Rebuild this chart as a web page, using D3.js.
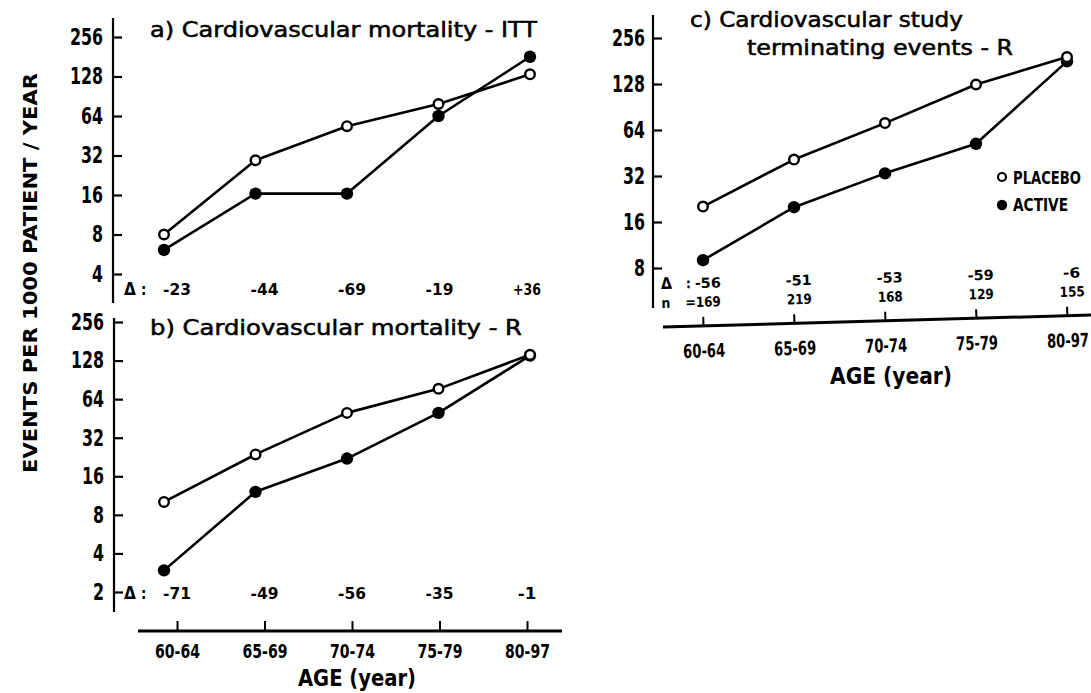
<!DOCTYPE html>
<html>
<head>
<meta charset="utf-8">
<script src="https://cdn.jsdelivr.net/npm/d3@7"></script>
<style>
  html, body { margin: 0; padding: 0; background: #fff; }
  svg { display: block; }
</style>
</head>
<body>
<svg id="chart" width="1091" height="693"></svg>
<script>
// Age groups shared by all three panels
const ageGroups = ["60-64", "65-69", "70-74", "75-79", "80-97"];

// a) Cardiovascular mortality - ITT (events per 1000 patient-years)
const ittPlacebo = [8, 29.4, 53.5, 79, 133];
const ittActive = [6.1, 16.4, 16.4, 64, 181];
const ittDelta = ["-23", "-44", "-69", "-19", "+36"];

// b) Cardiovascular mortality - R
const rPlacebo = [10.1, 23.7, 50, 77, 142];
const rActive = [2.95, 12.1, 22, 50, 140];
const rDelta = ["-71", "-49", "-56", "-35", "-1"];

// c) Cardiovascular study terminating events - R
const termPlacebo = [20.2, 41, 71, 127, 192];
const termActive = [9, 20, 33.3, 52, 180];
const termDelta = ["-56", "-51", "-53", "-59", "-6"];
const termN = ["169", "219", "168", "129", "155"];

// Log-2 tick values on each y axis
const ticksA = [4, 8, 16, 32, 64, 128, 256];
const ticksB = [2, 4, 8, 16, 32, 64, 128, 256];
const ticksC = [8, 16, 32, 64, 128, 256];

const FONT = "'DejaVu Sans Condensed', 'DejaVu Sans', sans-serif";
const svg = d3.select("#chart");
svg.append("rect").attr("width", 1091).attr("height", 693).attr("fill", "#fff");

// x scales: marks for panels a/b, shared x axis for a/b, panel c
const xAB = d3.scalePoint().domain(ageGroups).range([164, 530]);
const xAxisAB = d3.scalePoint().domain(ageGroups).range([177, 527]);
const xC = d3.scalePoint().domain(ageGroups).range([703, 1067]);

const yA = d3.scaleLog().base(2).domain([4, 256]).range([274, 37]);
const yB = d3.scaleLog().base(2).domain([2, 256]).range([592, 322]);
const yC = d3.scaleLog().base(2).domain([8, 256]).range([268, 38]);

function yAxis(scale, ticks, x, top, bottom, pad) {
  const g = svg.append("g").attr("transform", `translate(${x},0)`);
  g.call(d3.axisLeft(scale).tickValues(ticks).tickFormat(d3.format("d"))
      .tickSizeInner(-9).tickSizeOuter(0).tickPadding(pad));
  g.select(".domain").remove();
  g.selectAll(".tick line").attr("stroke", "#000").attr("stroke-width", 2.2);
  g.selectAll(".tick text")
    .attr("font-family", FONT).attr("font-weight", "bold")
    .attr("font-size", 23).attr("fill", "#000")
    .attr("textLength", d => String(d).length * 11)
    .attr("lengthAdjust", "spacingAndGlyphs");
  svg.append("line").attr("x1", x).attr("x2", x).attr("y1", top).attr("y2", bottom)
    .attr("stroke", "#000").attr("stroke-width", 2.2);
}

function series(xs, ys, placebo, active) {
  const line = d3.line().x((d, i) => xs(ageGroups[i])).y(d => ys(d));
  [placebo, active].forEach(vals => {
    svg.append("path").datum(vals).attr("d", line)
      .attr("fill", "none").attr("stroke", "#000").attr("stroke-width", 2.6)
      .attr("stroke-linejoin", "round");
  });
  svg.append("g").selectAll("circle").data(active).join("circle")
    .attr("cx", (d, i) => xs(ageGroups[i])).attr("cy", d => ys(d))
    .attr("r", 6.2).attr("fill", "#000");
  svg.append("g").selectAll("circle").data(placebo).join("circle")
    .attr("cx", (d, i) => xs(ageGroups[i])).attr("cy", d => ys(d))
    .attr("r", 4.8).attr("fill", "#fff").attr("stroke", "#000").attr("stroke-width", 2.4);
}

function label(parent, text, x, y, size, opts = {}) {
  const t = parent.append("text").attr("x", x).attr("y", y).text(text)
    .attr("font-family", FONT).attr("font-size", size).attr("fill", "#000")
    .attr("text-anchor", opts.anchor || "start")
    .attr("font-weight", opts.weight || "normal");
  if (opts.length) t.attr("textLength", opts.length).attr("lengthAdjust", "spacingAndGlyphs");
  if (opts.stroke) t.attr("stroke", "#000").attr("stroke-width", opts.stroke);
  return t;
}

// Δ row: symbol, colon, then one value under each age group
function deltaRow(parent, xs, values, y, startX, size, shift, colonGap) {
  label(parent, "Δ", startX, y, size + 2, { weight: "bold" });
  label(parent, ":", startX + colonGap, y, size, { weight: "bold" });
  values.forEach((v, i) => {
    label(parent, v, xs(ageGroups[i]) + shift, y, size, {
      weight: "bold", anchor: "middle", length: v.length * (size * 0.62)
    });
  });
}

// condensed bold tick labels, narrowed horizontally to a fixed width
function styleXAxis(g, width) {
  g.select(".domain").remove();
  g.selectAll(".tick line").attr("stroke", "#000").attr("stroke-width", 2);
  g.selectAll(".tick text").attr("font-family", FONT).attr("font-weight", "bold")
    .attr("font-size", 19).attr("fill", "#000")
    .each(function () {
      const t = d3.select(this);
      const w = this.getComputedTextLength();
      const y = +t.attr("y");
      t.attr("transform", `translate(0,${y}) scale(${width / w},1)`).attr("y", 0);
    });
}

// ---- Panel a
yAxis(yA, ticksA, 113, 18, 303, 10);
series(xAB, yA, ittPlacebo, ittActive);
label(svg, "a) Cardiovascular mortality - ITT", 150, 37, 21, { length: 387, stroke: 0.5 });
deltaRow(svg, xAxisAB, ittDelta, 295, 124, 15, 0, 17);

// ---- Panel b
yAxis(yB, ticksB, 114, 318, 612, 10);
series(xAB, yB, rPlacebo, rActive);
label(svg, "b) Cardiovascular mortality - R", 150, 335, 21, { length: 372, stroke: 0.5 });
deltaRow(svg, xAxisAB, rDelta, 599, 124, 15, 0, 17);

// shared x axis for panels a and b
{
  const g = svg.append("g").attr("transform", "translate(0,631)");
  g.call(d3.axisBottom(xAxisAB).tickSizeInner(-10).tickSizeOuter(0).tickPadding(14));
  styleXAxis(g, 45);
  svg.append("line").attr("x1", 138).attr("x2", 562).attr("y1", 631).attr("y2", 631)
    .attr("stroke", "#000").attr("stroke-width", 3);
  label(svg, "AGE (year)", 357, 686, 23, { anchor: "middle", length: 118, weight: "bold" });
}

// y axis title shared by panels a and b
label(svg, "EVENTS PER 1000 PATIENT / YEAR", 0, 0, 20, { anchor: "middle", length: 400, weight: "bold" })
  .attr("transform", "translate(37,273) rotate(-90)");

// ---- Panel c
yAxis(yC, ticksC, 653, 15, 308, 8);
series(xC, yC, termPlacebo, termActive);
label(svg, "c) Cardiovascular study", 690, 27, 21, { length: 273, stroke: 0.5 });
label(svg, "terminating events - R", 747, 55, 21, { length: 266, stroke: 0.5 });

// bottom of panel c sits on a slightly tilted baseline
{
  const tilt = svg.append("g").attr("transform", "rotate(-1.6,663,327)");
  deltaRow(tilt, xC, termDelta, 289, 662, 14, 6, 25);
  label(tilt, "n", 662, 308, 14, { weight: "bold" });
  label(tilt, "=", 686, 308, 14, { weight: "bold" });
  termN.forEach((v, i) => label(tilt, v, xC(ageGroups[i]) + 6, 308, 14,
    { weight: "bold", anchor: "middle", length: 25 }));
  const g = tilt.append("g").attr("transform", "translate(0,327)");
  g.call(d3.axisBottom(xC).tickSizeInner(-9).tickSizeOuter(0).tickPadding(18));
  styleXAxis(g, 42);
  tilt.append("line").attr("x1", 663).attr("x2", 1095).attr("y1", 327).attr("y2", 327)
    .attr("stroke", "#000").attr("stroke-width", 3);
}
label(svg, "AGE (year)", 891, 384, 23, { anchor: "middle", length: 122, weight: "bold" });

// legend
{
  const lg = svg.append("g");
  lg.append("circle").attr("cx", 1002).attr("cy", 177).attr("r", 4).attr("fill", "#fff")
    .attr("stroke", "#000").attr("stroke-width", 2.2);
  label(lg, "PLACEBO", 1013, 184, 17, { weight: "bold", length: 68 });
  lg.append("circle").attr("cx", 1002).attr("cy", 205).attr("r", 5.2).attr("fill", "#000");
  label(lg, "ACTIVE", 1013, 211, 17, { weight: "bold", length: 55 });
}
</script>
</body>
</html>
